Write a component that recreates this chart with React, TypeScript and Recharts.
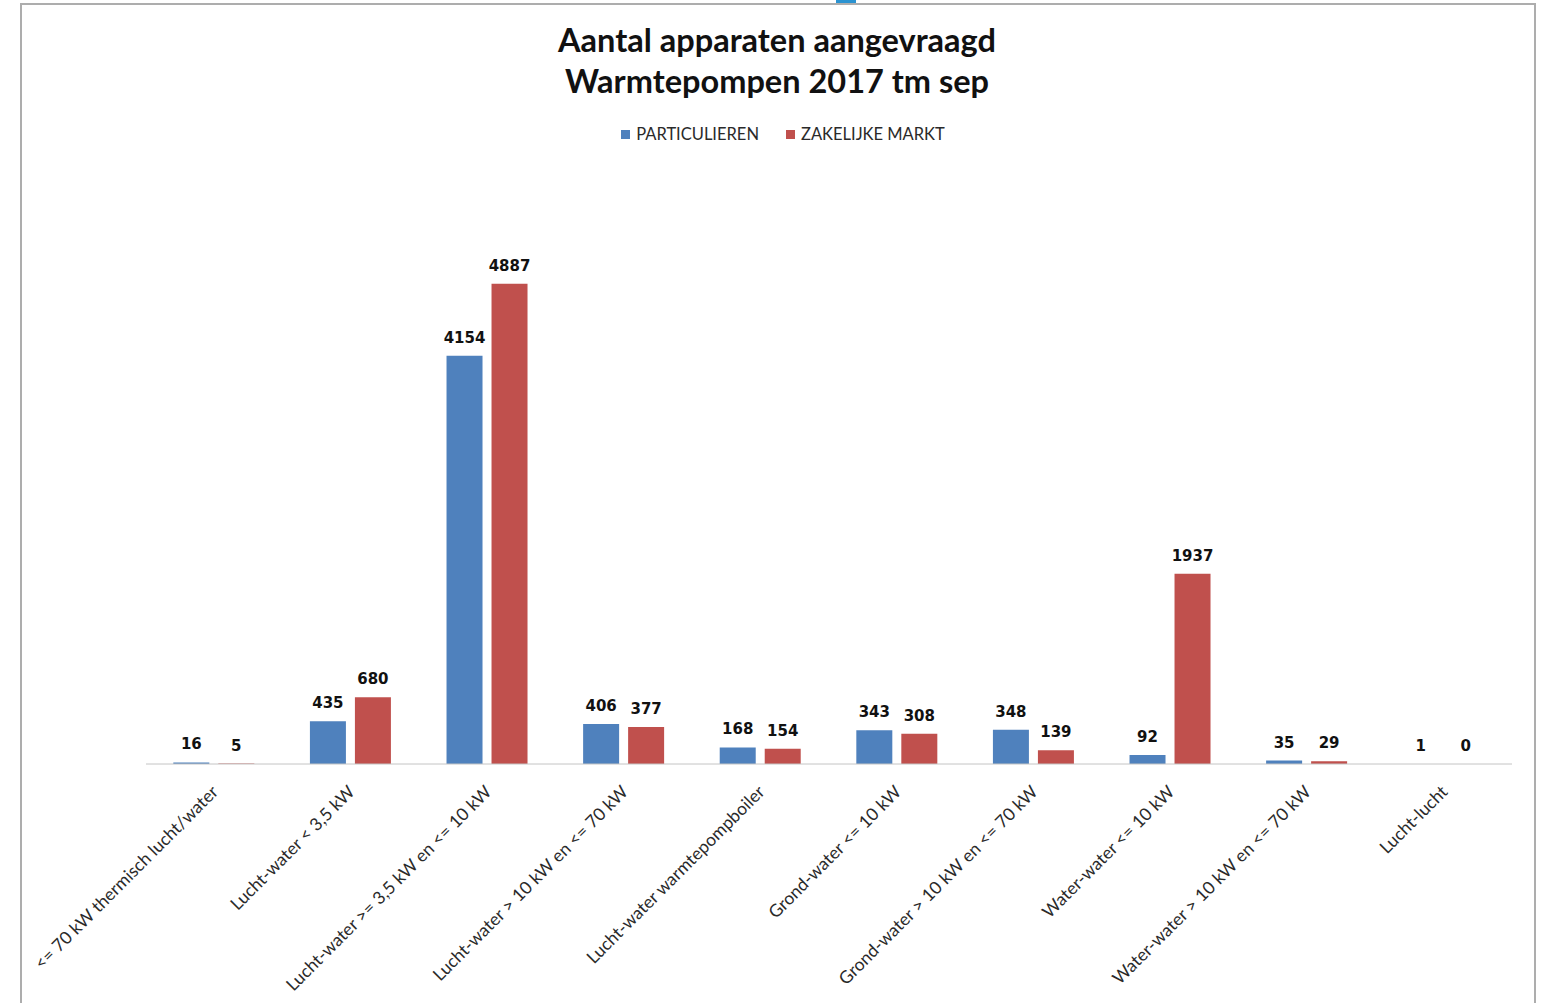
import React from "react";
import { BarChart, Bar, XAxis, YAxis, LabelList } from "recharts";

// categories and counts
const categories = [
  "<= 70 kW thermisch lucht/water",
  "Lucht-water < 3,5 kW",
  "Lucht-water >= 3,5 kW en <= 10 kW",
  "Lucht-water > 10 kW en <= 70 kW",
  "Lucht-water warmtepompboiler",
  "Grond-water <= 10 kW",
  "Grond-water > 10 kW en <= 70 kW",
  "Water-water <= 10 kW",
  "Water-water > 10 kW en <= 70 kW",
  "Lucht-lucht",
];
const particulieren = [16, 435, 4154, 406, 168, 343, 348, 92, 35, 1];
const zakelijk = [5, 680, 4887, 377, 154, 308, 139, 1937, 29, 0];

const seriesNames = ["PARTICULIEREN", "ZAKELIJKE MARKT"];

const data = categories.map((name, i) => ({
  name,
  particulieren: particulieren[i],
  zakelijk: zakelijk[i],
}));

const BLUE = "#4F81BD";
const RED = "#C0504D";
const FONT = "Lato, 'Open Sans', sans-serif";

const CategoryTick = (props: any) => {
  const { x, y, payload } = props;
  return (
    <g transform={`translate(${x + 5},${y + 21})`}>
      <text
        x={0}
        y={0}
        textAnchor="end"
        transform="rotate(-45)"
        fontFamily={FONT}
        fontSize={17.5}
        fill="#2a2a2a"
      >
        {payload.value}
      </text>
    </g>
  );
};

// draws the value above the bar, also when the bar has no height
const ValueLabel = (props: any) => {
  const { x, y, width, height, value } = props;
  const top = Math.min(y, y + height);
  return (
    <text
      x={x + width / 2}
      y={top - 13}
      textAnchor="middle"
      fontFamily="'DejaVu Sans', Verdana, sans-serif"
      fontWeight={700}
      fontSize={15}
      fill="#111"
    >
      {value}
    </text>
  );
};

const App = () => {
  return (
    <div
      style={{
        position: "absolute",
        left: 0,
        top: 0,
        width: 1550,
        height: 1003,
        overflow: "hidden",
        background: "#fff",
      }}
    >
      <div
        style={{
          position: "absolute",
          left: 20,
          top: 3,
          width: 1512,
          height: 998,
          border: "2px solid #adadad",
        }}
      />
      <div
        style={{
          position: "absolute",
          left: 836,
          top: 0,
          width: 20,
          height: 3,
          background: "#2b93d1",
        }}
      />
      <div
        style={{
          position: "absolute",
          left: 0,
          top: 19,
          width: 1554,
          textAlign: "center",
          fontFamily: FONT,
          fontWeight: 700,
          fontSize: 32.5,
          lineHeight: "41px",
          color: "#111",
        }}
      >
        Aantal apparaten aangevraagd
        <br />
        Warmtepompen 2017 tm sep
      </div>
      <div
        style={{
          position: "absolute",
          left: 3,
          top: 124,
          width: 1560,
          display: "flex",
          justifyContent: "center",
          gap: 27,
          fontFamily: FONT,
          fontSize: 16.5,
          color: "#2a2a2a",
          lineHeight: "20px",
        }}
      >
        {seriesNames.map((s, i) => (
          <div key={s} style={{ display: "flex", alignItems: "center" }}>
            <span
              style={{
                display: "inline-block",
                width: 9,
                height: 9,
                marginRight: 6,
                background: i === 0 ? BLUE : RED,
              }}
            />
            {s}
          </div>
        ))}
      </div>
      <div style={{ position: "absolute", left: 0, top: 0 }}>
        <BarChart
          width={1550}
          height={1003}
          data={data}
          margin={{ top: 200, right: 38, bottom: 9, left: 146 }}
          barCategoryGap="20%"
          barGap={9}
        >
          <XAxis
            dataKey="name"
            height={230}
            interval={0}
            tickLine={false}
            axisLine={{ stroke: "#c4c4c4" }}
            tick={<CategoryTick />}
          />
          <YAxis hide domain={[0, 5740]} />
          <Bar
            dataKey="particulieren"
            name={seriesNames[0]}
            fill={BLUE}
            minPointSize={0.01}
            isAnimationActive={false}
          >
            <LabelList dataKey="particulieren" content={<ValueLabel />} />
          </Bar>
          <Bar
            dataKey="zakelijk"
            name={seriesNames[1]}
            fill={RED}
            minPointSize={0.01}
            isAnimationActive={false}
          >
            <LabelList dataKey="zakelijk" content={<ValueLabel />} />
          </Bar>
        </BarChart>
      </div>
    </div>
  );
};

export default App;
